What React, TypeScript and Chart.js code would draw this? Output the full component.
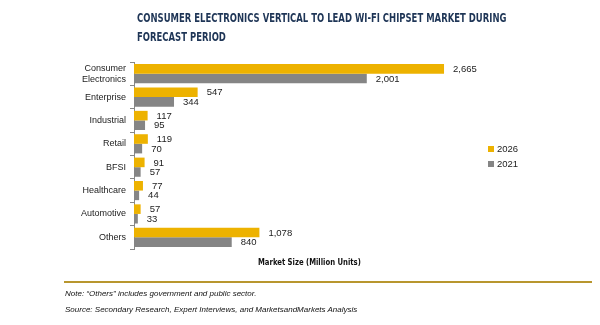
import React, { useEffect, useRef } from "react";
import { Chart, registerables } from "chart.js";

Chart.register(...registerables);

const categories: (string | string[])[] = [
  ["Consumer", "Electronics"],
  "Enterprise",
  "Industrial",
  "Retail",
  "BFSI",
  "Healthcare",
  "Automotive",
  "Others",
];
const values2026 = [2665, 547, 117, 119, 91, 77, 57, 1078];
const values2021 = [2001, 344, 95, 70, 57, 44, 33, 840];
const seriesNames = ["2026", "2021"];
const colors = ["#EDB200", "#858585"];

const titleLines = ["CONSUMER ELECTRONICS VERTICAL TO LEAD WI-FI CHIPSET MARKET DURING", "FORECAST PERIOD"];
const axisTitle = "Market Size (Million Units)";
const note = "Note: \u201cOthers\u201d includes government and public sector.";
const source = "Source: Secondary Research, Expert Interviews, and MarketsandMarkets Analysis";

const labelPlugin = {
  id: "barLabels",
  afterDatasetsDraw(chart: any) {
    const ctx = chart.ctx;
    ctx.save();
    ctx.font = "9.5px 'Liberation Sans', Arial, sans-serif";
    ctx.fillStyle = "#222";
    ctx.textAlign = "left";
    ctx.textBaseline = "middle";
    chart.data.datasets.forEach((ds: any, i: number) => {
      const meta = chart.getDatasetMeta(i);
      meta.data.forEach((bar: any, j: number) => {
        const v = ds.data[j] as number;
        ctx.fillText(v.toLocaleString("en-US"), bar.x + 9, bar.y + 0.5);
      });
    });
    ctx.restore();
  },
};

export default function App() {
  const ref = useRef<HTMLCanvasElement | null>(null);
  useEffect(() => {
    if (!ref.current) return;
    const chart = new Chart(ref.current, {
      type: "bar",
      data: {
        labels: categories,
        datasets: [
          { label: seriesNames[0], data: values2026, backgroundColor: colors[0], borderWidth: 0 },
          { label: seriesNames[1], data: values2021, backgroundColor: colors[1], borderWidth: 0 },
        ],
      },
      options: {
        indexAxis: "y",
        animation: false,
        responsive: false,
        maintainAspectRatio: false,
        layout: { padding: { top: 62, bottom: 76, left: 0, right: 117 } },
        datasets: { bar: { categoryPercentage: 0.82, barPercentage: 1.0 } },
        plugins: { legend: { display: false }, tooltip: { enabled: false } },
        scales: {
          x: { display: false, min: 0, max: 3000 },
          y: {
            offset: true,
            grid: {
              display: true,
              drawOnChartArea: false,
              offset: true,
              tickLength: 4,
              color: "#888",
            },
            border: { display: true, color: "#888", width: 1 },
            ticks: {
              autoSkip: false,
              color: "#222",
              padding: 4,
              font: { family: "'Liberation Sans', Arial, sans-serif", size: 9 },
            },
            afterFit(scale: any) {
              scale.width = 134;
            },
          },
        },
      },
      plugins: [labelPlugin],
    });
    return () => chart.destroy();
  }, []);

  const base: React.CSSProperties = { position: "absolute", whiteSpace: "nowrap" };
  const titleStyle: React.CSSProperties = {
    ...base,
    left: 137,
    fontFamily: "'DejaVu Sans Condensed', 'Liberation Sans', Arial, sans-serif",
    fontWeight: "bold",
    fontSize: 13,
    color: "#1E3556",
    transform: "scaleX(0.725)",
    transformOrigin: "0 0",
  };
  return (
    <div style={{ position: "fixed", left: 0, top: 0, width: 600, height: 325, background: "#fff", overflow: "hidden" }}>
      <canvas ref={ref} width={600} height={325} style={{ position: "absolute", left: 0, top: 0 }} />
      <div style={{ ...titleStyle, top: 10 }}>{titleLines[0]}</div>
      <div style={{ ...titleStyle, top: 29 }}>{titleLines[1]}</div>
      <div
        style={{
          ...base,
          left: 258,
          top: 257,
          fontFamily: "'DejaVu Sans Condensed', Arial, sans-serif",
          fontWeight: "bold",
          fontSize: 9,
          color: "#111",
          transform: "scaleX(0.85)",
          transformOrigin: "0 0",
        }}
      >
        {axisTitle}
      </div>
      <div style={{ ...base, left: 488, top: 146, width: 6, height: 6, background: colors[0] }} />
      <div style={{ ...base, left: 497, top: 143, fontFamily: "'Liberation Sans', Arial, sans-serif", fontSize: 9.5, color: "#222" }}>{seriesNames[0]}</div>
      <div style={{ ...base, left: 488, top: 161, width: 6, height: 6, background: colors[1] }} />
      <div style={{ ...base, left: 497, top: 158, fontFamily: "'Liberation Sans', Arial, sans-serif", fontSize: 9.5, color: "#222" }}>{seriesNames[1]}</div>
      <div style={{ ...base, left: 64, top: 281, width: 528, height: 1.5, background: "#B8962E" }} />
      <div style={{ ...base, left: 65, top: 289, fontFamily: "'Liberation Sans', Arial, sans-serif", fontStyle: "italic", fontSize: 8, color: "#111" }}>{note}</div>
      <div style={{ ...base, left: 65, top: 305, fontFamily: "'Liberation Sans', Arial, sans-serif", fontStyle: "italic", fontSize: 8, color: "#111" }}>{source}</div>
    </div>
  );
}
